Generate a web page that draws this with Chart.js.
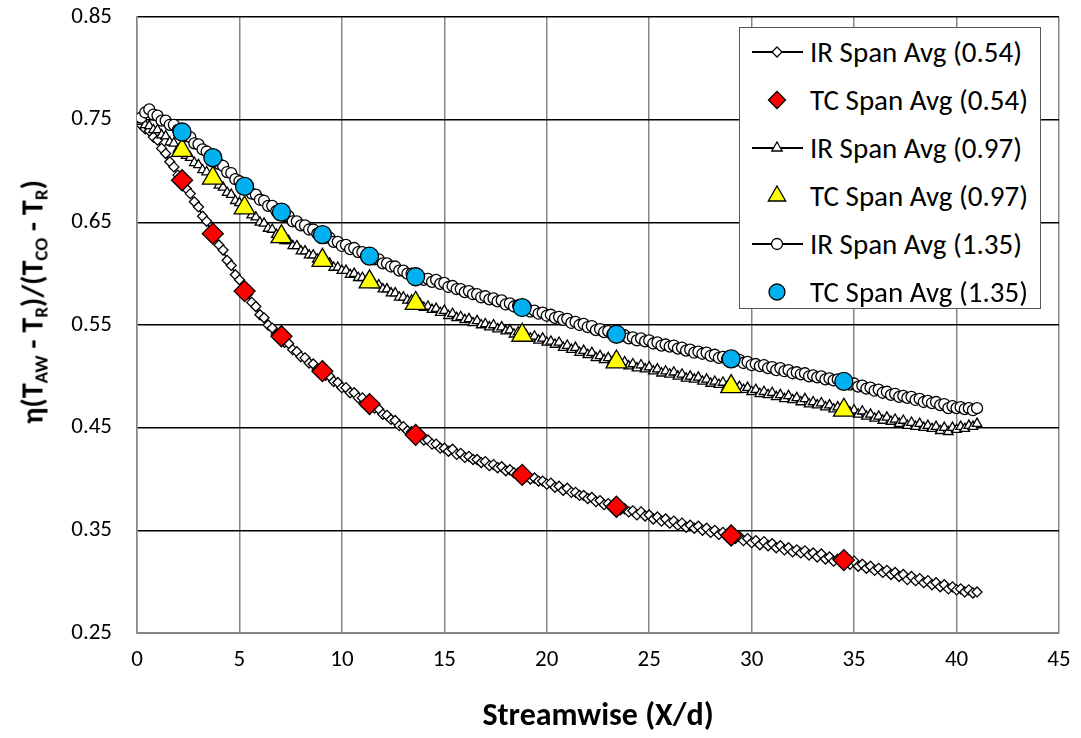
<!DOCTYPE html>
<html>
<head>
<meta charset="utf-8">
<script src="https://cdn.jsdelivr.net/npm/chart.js@4.4.1/dist/chart.umd.min.js"></script>
<style>
  html, body { margin: 0; padding: 0; background: #fff; }
  #wrap { position: relative; width: 1081px; height: 738px; font-family: "Carlito", "Lato", sans-serif; }
  #ytitle {
    position: absolute; left: 32px; top: 302px;
    transform: translate(-50%, -50%) rotate(-90deg);
    white-space: nowrap; font-weight: bold; font-size: 30px; color: #000;
  }
  #ytitle sub { font-size: 19px; vertical-align: -5px; line-height: 0; }
  #legend {
    position: absolute; left: 739px; top: 27px; width: 302px; height: 282px;
    background: #fff; border: 1.5px solid #595959; box-sizing: border-box;
    padding-top: 0;
  }
  .row { height: 48px; display: flex; align-items: center; font-size: 29px; color: #000; }
  .row svg { margin-left: 11px; margin-right: 7px; }
</style>
</head>
<body>
<div id="wrap">
  <canvas id="chart" width="1081" height="738"></canvas>
  <div id="ytitle">η(T<sub>AW</sub> - T<sub>R</sub>)/(T<sub>CO</sub> - T<sub>R</sub>)</div>
  <div id="legend"></div>
</div>
<script>
// streamwise positions of the IR span-averaged data
const xIR = [0.2, 0.4, 0.6, 0.8, 1.0, 1.2, 1.4, 1.6, 1.8, 2.0,
  2.2, 2.4, 2.6, 2.8, 3.0, 3.2, 3.4, 3.6, 3.8, 4.0,
  4.2, 4.4, 4.6, 4.8, 5.0, 5.2, 5.4, 5.6, 5.8, 6.0,
  6.2, 6.4, 6.6, 6.8, 7.0, 7.2, 7.4, 7.6, 7.8, 8.0,
  8.2, 8.4, 8.6, 8.8, 9.0, 9.2, 9.4, 9.6, 9.8, 10.0,
  10.2, 10.4, 10.6, 10.8, 11.0, 11.2, 11.4, 11.6, 11.8, 12.0,
  12.2, 12.4, 12.6, 12.8, 13.0, 13.2, 13.4, 13.6, 13.8, 14.0,
  14.2, 14.4, 14.6, 14.8, 15.0, 15.2, 15.4, 15.6, 15.8, 16.0,
  16.2, 16.4, 16.6, 16.8, 17.0, 17.2, 17.4, 17.6, 17.8, 18.0,
  18.2, 18.4, 18.6, 18.8, 19.0, 19.2, 19.4, 19.6, 19.8, 20.0,
  20.2, 20.4, 20.6, 20.8, 21.0, 21.2, 21.4, 21.6, 21.8, 22.0,
  22.2, 22.4, 22.6, 22.8, 23.0, 23.2, 23.4, 23.6, 23.8, 24.0,
  24.2, 24.4, 24.6, 24.8, 25.0, 25.2, 25.4, 25.6, 25.8, 26.0,
  26.2, 26.4, 26.6, 26.8, 27.0, 27.2, 27.4, 27.6, 27.8, 28.0,
  28.2, 28.4, 28.6, 28.8, 29.0, 29.2, 29.4, 29.6, 29.8, 30.0,
  30.2, 30.4, 30.6, 30.8, 31.0, 31.2, 31.4, 31.6, 31.8, 32.0,
  32.2, 32.4, 32.6, 32.8, 33.0, 33.2, 33.4, 33.6, 33.8, 34.0,
  34.2, 34.4, 34.6, 34.8, 35.0, 35.2, 35.4, 35.6, 35.8, 36.0,
  36.2, 36.4, 36.6, 36.8, 37.0, 37.2, 37.4, 37.6, 37.8, 38.0,
  38.2, 38.4, 38.6, 38.8, 39.0, 39.2, 39.4, 39.6, 39.8, 40.0,
  40.2, 40.4, 40.6, 40.8, 41.0];

const irSpan054 = [0.745, 0.741, 0.739, 0.733, 0.730, 0.722, 0.717, 0.709, 0.704, 0.696,
  0.691, 0.683, 0.678, 0.670, 0.665, 0.656, 0.651, 0.642, 0.637, 0.628,
  0.623, 0.613, 0.608, 0.599, 0.594, 0.585, 0.580, 0.572, 0.568, 0.560,
  0.557, 0.550, 0.547, 0.541, 0.539, 0.533, 0.532, 0.526, 0.524, 0.519,
  0.518, 0.513, 0.512, 0.507, 0.506, 0.501, 0.500, 0.495, 0.494, 0.489,
  0.489, 0.484, 0.484, 0.479, 0.479, 0.474, 0.474, 0.469, 0.468, 0.463,
  0.462, 0.458, 0.457, 0.452, 0.451, 0.447, 0.446, 0.442, 0.442, 0.438,
  0.438, 0.434, 0.434, 0.430, 0.430, 0.427, 0.429, 0.424, 0.425, 0.421,
  0.422, 0.419, 0.419, 0.416, 0.417, 0.413, 0.414, 0.411, 0.412, 0.408,
  0.409, 0.406, 0.406, 0.403, 0.404, 0.400, 0.401, 0.398, 0.398, 0.395,
  0.396, 0.392, 0.393, 0.389, 0.391, 0.387, 0.387, 0.384, 0.384, 0.381,
  0.382, 0.378, 0.379, 0.375, 0.376, 0.372, 0.373, 0.370, 0.371, 0.368,
  0.369, 0.365, 0.368, 0.364, 0.365, 0.361, 0.363, 0.359, 0.361, 0.357,
  0.359, 0.355, 0.357, 0.353, 0.355, 0.352, 0.354, 0.350, 0.352, 0.348,
  0.350, 0.346, 0.348, 0.344, 0.346, 0.342, 0.344, 0.340, 0.342, 0.338,
  0.340, 0.336, 0.339, 0.335, 0.337, 0.333, 0.335, 0.331, 0.333, 0.329,
  0.331, 0.328, 0.330, 0.326, 0.328, 0.324, 0.327, 0.322, 0.324, 0.320,
  0.322, 0.319, 0.321, 0.317, 0.320, 0.315, 0.317, 0.313, 0.315, 0.311,
  0.313, 0.309, 0.311, 0.307, 0.309, 0.305, 0.307, 0.302, 0.305, 0.301,
  0.303, 0.299, 0.301, 0.297, 0.299, 0.295, 0.297, 0.293, 0.295, 0.292,
  0.293, 0.290, 0.292, 0.289, 0.290];

const irSpan097 = [0.748, 0.745, 0.744, 0.740, 0.740, 0.735, 0.734, 0.728, 0.727, 0.721,
  0.720, 0.715, 0.713, 0.708, 0.706, 0.701, 0.699, 0.694, 0.692, 0.686,
  0.684, 0.679, 0.677, 0.671, 0.669, 0.664, 0.662, 0.657, 0.655, 0.650,
  0.649, 0.644, 0.643, 0.638, 0.637, 0.632, 0.632, 0.627, 0.627, 0.622,
  0.622, 0.618, 0.618, 0.614, 0.614, 0.610, 0.610, 0.606, 0.606, 0.603,
  0.603, 0.599, 0.600, 0.596, 0.596, 0.593, 0.593, 0.589, 0.589, 0.585,
  0.585, 0.581, 0.581, 0.577, 0.577, 0.574, 0.574, 0.570, 0.571, 0.567,
  0.568, 0.565, 0.566, 0.562, 0.564, 0.559, 0.561, 0.557, 0.558, 0.555,
  0.556, 0.552, 0.554, 0.550, 0.551, 0.548, 0.550, 0.546, 0.548, 0.544,
  0.545, 0.541, 0.543, 0.539, 0.540, 0.537, 0.539, 0.535, 0.537, 0.533,
  0.534, 0.531, 0.533, 0.528, 0.530, 0.526, 0.528, 0.523, 0.525, 0.521,
  0.523, 0.518, 0.520, 0.516, 0.518, 0.514, 0.516, 0.512, 0.514, 0.510,
  0.512, 0.508, 0.511, 0.507, 0.509, 0.505, 0.507, 0.503, 0.505, 0.502,
  0.504, 0.500, 0.502, 0.498, 0.500, 0.497, 0.499, 0.495, 0.497, 0.493,
  0.495, 0.492, 0.494, 0.490, 0.492, 0.488, 0.490, 0.487, 0.489, 0.485,
  0.487, 0.483, 0.485, 0.482, 0.484, 0.480, 0.482, 0.478, 0.481, 0.477,
  0.479, 0.475, 0.478, 0.473, 0.475, 0.472, 0.474, 0.470, 0.472, 0.468,
  0.470, 0.467, 0.469, 0.465, 0.467, 0.463, 0.466, 0.461, 0.463, 0.459,
  0.461, 0.457, 0.460, 0.456, 0.458, 0.454, 0.457, 0.452, 0.455, 0.451,
  0.454, 0.450, 0.452, 0.449, 0.451, 0.447, 0.450, 0.446, 0.450, 0.448,
  0.451, 0.449, 0.452, 0.451, 0.454];

const irSpan135 = [0.752, 0.757, 0.760, 0.755, 0.754, 0.749, 0.749, 0.745, 0.745, 0.740,
  0.739, 0.734, 0.733, 0.727, 0.726, 0.721, 0.719, 0.714, 0.712, 0.707,
  0.705, 0.699, 0.698, 0.692, 0.690, 0.685, 0.683, 0.678, 0.677, 0.672,
  0.671, 0.666, 0.666, 0.661, 0.661, 0.656, 0.656, 0.651, 0.651, 0.647,
  0.647, 0.643, 0.643, 0.639, 0.639, 0.635, 0.635, 0.631, 0.631, 0.627,
  0.628, 0.624, 0.625, 0.621, 0.621, 0.617, 0.618, 0.614, 0.614, 0.610,
  0.610, 0.607, 0.607, 0.603, 0.603, 0.600, 0.600, 0.597, 0.597, 0.594,
  0.595, 0.592, 0.594, 0.590, 0.591, 0.587, 0.588, 0.585, 0.585, 0.582,
  0.583, 0.580, 0.580, 0.577, 0.578, 0.575, 0.576, 0.573, 0.574, 0.570,
  0.571, 0.568, 0.569, 0.566, 0.567, 0.563, 0.564, 0.561, 0.562, 0.559,
  0.560, 0.557, 0.558, 0.555, 0.556, 0.552, 0.553, 0.550, 0.551, 0.548,
  0.549, 0.545, 0.546, 0.543, 0.544, 0.541, 0.542, 0.539, 0.540, 0.537,
  0.538, 0.535, 0.537, 0.534, 0.535, 0.532, 0.533, 0.530, 0.531, 0.529,
  0.530, 0.527, 0.528, 0.525, 0.526, 0.523, 0.524, 0.522, 0.523, 0.520,
  0.521, 0.518, 0.519, 0.517, 0.518, 0.515, 0.516, 0.513, 0.514, 0.511,
  0.512, 0.510, 0.511, 0.508, 0.509, 0.506, 0.508, 0.505, 0.506, 0.503,
  0.504, 0.502, 0.503, 0.500, 0.501, 0.499, 0.500, 0.497, 0.498, 0.496,
  0.497, 0.494, 0.495, 0.492, 0.493, 0.490, 0.491, 0.488, 0.489, 0.486,
  0.487, 0.484, 0.485, 0.482, 0.483, 0.480, 0.481, 0.479, 0.480, 0.477,
  0.478, 0.475, 0.476, 0.474, 0.475, 0.472, 0.473, 0.469, 0.471, 0.469,
  0.470, 0.468, 0.469, 0.467, 0.469];

// thermocouple positions and values
const xTC = [2.2, 3.7, 5.25, 7.05, 9.05, 11.35, 13.6, 18.8, 23.4, 29.0, 34.5];
const tcSpan054 = [0.691, 0.639, 0.583, 0.539, 0.505, 0.473, 0.443, 0.404, 0.373, 0.345, 0.321];
const tcSpan097 = [0.720, 0.693, 0.664, 0.636, 0.613, 0.592, 0.571, 0.540, 0.514, 0.490, 0.467];
const tcSpan135 = [0.738, 0.713, 0.685, 0.660, 0.638, 0.617, 0.597, 0.567, 0.541, 0.517, 0.495];

const xTicks = [0, 5, 10, 15, 20, 25, 30, 35, 40, 45];
const yTicks = [0.25, 0.35, 0.45, 0.55, 0.65, 0.75, 0.85];

const FONT = '"Carlito", "Lato", sans-serif';
const pts = (xs, ys) => ys.map((y, i) => ({ x: xs[i], y }));

function irSet(label, ys, style, radius, order) {
  return {
    label, data: pts(xIR, ys), order,
    borderColor: "#000", borderWidth: 1.5, tension: 0,
    pointStyle: style, pointRadius: radius,
    pointBackgroundColor: "#fff", pointBorderColor: "#000", pointBorderWidth: 1.3
  };
}
function tcSet(label, ys, style, radius, fill, order) {
  return {
    label, data: pts(xTC, ys), order, showLine: false,
    pointStyle: style, pointRadius: radius,
    pointBackgroundColor: fill, pointBorderColor: "#000", pointBorderWidth: 1.3
  };
}

const datasets = [
  irSet("IR Span Avg (0.54)", irSpan054, "rectRot", 5, 5),
  tcSet("TC Span Avg (0.54)", tcSpan054, "rectRot", 10.5, "#ff0000", 4),
  irSet("IR Span Avg (0.97)", irSpan097, "triangle", 5.5, 3),
  tcSet("TC Span Avg (0.97)", tcSpan097, "triangle", 12, "#ffff00", 2),
  irSet("IR Span Avg (1.35)", irSpan135, "circle", 5.5, 1),
  tcSet("TC Span Avg (1.35)", tcSpan135, "circle", 9, "#00b0f0", 0)
];

// keep the plot box where the reference has it
const noPad = (s) => { s.paddingTop = 0; s.paddingBottom = 0; s.paddingLeft = 0; s.paddingRight = 0; };

const chart = new Chart(document.getElementById("chart").getContext("2d"), {
  type: "line",
  data: { datasets },
  options: {
    responsive: false,
    animation: false,
    layout: { padding: { top: 17, right: 22, left: 0, bottom: 0 } },
    plugins: { legend: { display: false }, tooltip: { enabled: false } },
    scales: {
      x: {
        type: "linear", min: xTicks[0], max: xTicks[xTicks.length - 1],
        afterBuildTicks: (s) => { s.ticks = xTicks.map((v) => ({ value: v })); },
        afterFit: (s) => { s.height = 105; noPad(s); },
        ticks: { color: "#000", padding: 13, font: { family: FONT, size: 23 }, maxRotation: 0 },
        grid: { color: "#868686", lineWidth: 1.5, drawTicks: false },
        border: { color: "#868686", width: 1.5 },
        title: { display: true, text: "Streamwise (X/d)", color: "#000", font: { family: FONT, size: 32, weight: "bold" }, padding: { top: 0, bottom: 2 } }
      },
      y: {
        type: "linear", min: yTicks[0], max: yTicks[yTicks.length - 1],
        afterBuildTicks: (s) => { s.ticks = yTicks.map((v) => ({ value: v })); },
        afterFit: (s) => { s.width = 137; noPad(s); },
        ticks: { color: "#000", padding: 25, font: { family: FONT, size: 23 }, callback: (v) => v.toFixed(2) },
        grid: { color: "#000", lineWidth: 1.5, drawTicks: false },
        border: { color: "#868686", width: 1.5 }
      }
    }
  }
});

// legend box drawn from the datasets
function icon(ds) {
  const big = ds.showLine === false;
  const s = big ? { rectRot: 8.5, triangle: 10, circle: 8 }[ds.pointStyle] : { rectRot: 5, triangle: 6, circle: 5.5 }[ds.pointStyle];
  const st = `fill="${ds.pointBackgroundColor}" stroke="#000" stroke-width="1.3"`;
  let m = "";
  if (ds.pointStyle === "rectRot") m = `<polygon points="26,${11 - s} ${26 + s},11 26,${11 + s} ${26 - s},11" ${st}/>`;
  if (ds.pointStyle === "triangle") m = `<polygon points="26,${11 - s} ${26 + s * 0.87},${11 + s * 0.5} ${26 - s * 0.87},${11 + s * 0.5}" ${st}/>`;
  if (ds.pointStyle === "circle") m = `<circle cx="26" cy="11" r="${s}" ${st}/>`;
  const line = big ? "" : `<line x1="1" y1="11" x2="52" y2="11" stroke="#000" stroke-width="1.8"/>`;
  return `<svg width="52" height="22">${line}${m}</svg>`;
}
document.getElementById("legend").innerHTML = chart.data.datasets
  .map((ds) => `<div class="row">${icon(ds)}<span>${ds.label}</span></div>`)
  .join("");
</script>
</body>
</html>
